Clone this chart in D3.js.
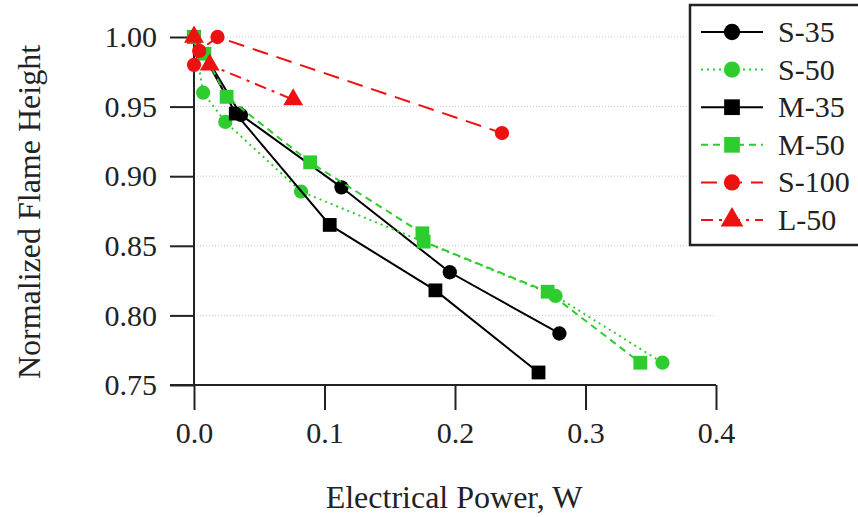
<!DOCTYPE html>
<html>
<head>
  <meta charset="utf-8">
  <title>Normalized Flame Height</title>
  <script src="https://d3js.org/d3.v7.min.js"></script>
  <style>
    body { margin: 0; background: #fff; }
    text { font-family: "Liberation Serif", "Times New Roman", serif; fill: #222; }
  </style>
</head>
<body>
  <svg id="chart"></svg>

  <script>
    // series data (electrical power W, normalized flame height)
    var seriesNames = ["S-35", "S-50", "M-35", "M-50", "S-100", "L-50"];
    var s35Power  = [0.000, 0.036, 0.113, 0.196, 0.280];
    var s35Height = [1.000, 0.944, 0.892, 0.831, 0.787];
    var s50Power  = [0.000, 0.007, 0.024, 0.082, 0.277, 0.359];
    var s50Height = [1.000, 0.960, 0.939, 0.889, 0.814, 0.766];
    var m35Power  = [0.000, 0.032, 0.104, 0.185, 0.264];
    var m35Height = [1.000, 0.945, 0.865, 0.818, 0.759];
    var m50Power  = [0.000, 0.008, 0.025, 0.089, 0.175, 0.176, 0.271, 0.342];
    var m50Height = [1.000, 0.988, 0.957, 0.910, 0.859, 0.853, 0.817, 0.766];
    var s100Power  = [0.000, 0.004, 0.018, 0.236];
    var s100Height = [0.980, 0.990, 1.000, 0.931];
    var l50Power  = [0.000, 0.012, 0.076];
    var l50Height = [1.000, 0.980, 0.955];
    var xTicks = [0.0, 0.1, 0.2, 0.3, 0.4];
    var yTicks = [0.75, 0.80, 0.85, 0.90, 0.95, 1.00];

    var width = 858, height = 517;
    var green = "#2ecc2e", red = "#ee1111";

    var series = [
      { name: seriesNames[0], x: s35Power,  y: s35Height,  color: "#000", shape: d3.symbolCircle,   size: 160, dash: null },
      { name: seriesNames[1], x: s50Power,  y: s50Height,  color: green,  shape: d3.symbolCircle,   size: 160, dash: "2,4" },
      { name: seriesNames[2], x: m35Power,  y: m35Height,  color: "#000", shape: d3.symbolSquare,   size: 190, dash: null },
      { name: seriesNames[3], x: m50Power,  y: m50Height,  color: green,  shape: d3.symbolSquare,   size: 190, dash: "7,5" },
      { name: seriesNames[4], x: s100Power, y: s100Height, color: red,    shape: d3.symbolCircle,   size: 160, dash: "16,9" },
      { name: seriesNames[5], x: l50Power,  y: l50Height,  color: red,    shape: d3.symbolTriangle, size: 170, dash: "12,6,3,6" }
    ];

    var svg = d3.select("#chart")
      .attr("width", width)
      .attr("height", height);

    var x = d3.scaleLinear().domain([0, 0.4]).range([194, 716]);
    var y = d3.scaleLinear().domain([0.75, 1.0]).range([385, 37]);

    // dotted grid lines
    svg.append("g")
      .selectAll("line")
      .data(yTicks.slice(1))
      .enter()
      .append("line")
      .attr("x1", x(0))
      .attr("x2", x(0.4))
      .attr("y1", function(d) { return y(d); })
      .attr("y2", function(d) { return y(d); })
      .attr("stroke", "#c8c8c8")
      .attr("stroke-width", 1)
      .attr("stroke-dasharray", "1,2");

    // axes
    var xAxis = svg.append("g")
      .attr("transform", "translate(0," + y(0.75) + ")")
      .call(d3.axisBottom(x).tickValues(xTicks).tickSize(25).tickPadding(12)
        .tickFormat(d3.format(".1f")));

    var yAxis = svg.append("g")
      .attr("transform", "translate(" + x(0) + ",0)")
      .call(d3.axisLeft(y).tickValues(yTicks).tickSize(24).tickPadding(13)
        .tickFormat(d3.format(".2f")));

    [xAxis, yAxis].forEach(function(a) {
      a.selectAll("path").attr("stroke", "#222").attr("stroke-width", 2);
      a.selectAll("line").attr("stroke", "#222").attr("stroke-width", 2);
      a.selectAll("text")
        .style("font-family", "'Liberation Serif', serif")
        .style("font-size", "30px")
        .attr("fill", "#222");
    });
    // x axis line reaches the 0.75 tick on the left
    xAxis.select(".domain").attr("d", "M" + (x(0) - 24) + ",0H" + x(0.4));
    yAxis.select(".domain").attr("d", "M0," + y(0.75) + "V" + y(1.0));

    // axis titles
    svg.append("text")
      .attr("x", 454)
      .attr("y", 508)
      .attr("text-anchor", "middle")
      .style("font-size", "32px")
      .text("Electrical Power, W");

    svg.append("text")
      .attr("transform", "translate(40,212) rotate(-90)")
      .attr("text-anchor", "middle")
      .style("font-size", "32px")
      .text("Normalized Flame Height");

    // lines and markers
    var line = d3.line()
      .x(function(d) { return x(d[0]); })
      .y(function(d) { return y(d[1]); });

    series.forEach(function(s) {
      var pts = s.x.map(function(v, i) { return [v, s.y[i]]; });
      svg.append("path")
        .datum(pts)
        .attr("d", line)
        .attr("fill", "none")
        .attr("stroke", s.color)
        .attr("stroke-width", 2)
        .attr("stroke-dasharray", s.dash);

      svg.append("g")
        .selectAll("path")
        .data(pts)
        .enter()
        .append("path")
        .attr("d", d3.symbol().type(s.shape).size(s.size))
        .attr("transform", function(d) { return "translate(" + x(d[0]) + "," + y(d[1]) + ")"; })
        .attr("fill", s.color);
    });

    // legend
    var legend = svg.append("g");
    legend.append("rect")
      .attr("x", 690)
      .attr("y", 5)
      .attr("width", 180)
      .attr("height", 240)
      .attr("fill", "#fff")
      .attr("stroke", "#222")
      .attr("stroke-width", 2.5);

    var rows = legend.selectAll("g.row")
      .data(series)
      .enter()
      .append("g")
      .attr("class", "row")
      .attr("transform", function(d, i) { return "translate(0," + (32 + i * 37.6) + ")"; });

    rows.append("line")
      .attr("x1", 701)
      .attr("x2", 763)
      .attr("stroke", function(d) { return d.color; })
      .attr("stroke-width", 2)
      .attr("stroke-dasharray", function(d) { return d.dash; });

    rows.append("path")
      .attr("d", function(d) { return d3.symbol().type(d.shape).size(d.size * 1.3)(); })
      .attr("transform", "translate(732,0)")
      .attr("fill", function(d) { return d.color; });

    rows.append("text")
      .attr("x", 778)
      .attr("y", 10)
      .style("font-size", "30px")
      .text(function(d) { return d.name; });
  </script>
</body>
</html>
